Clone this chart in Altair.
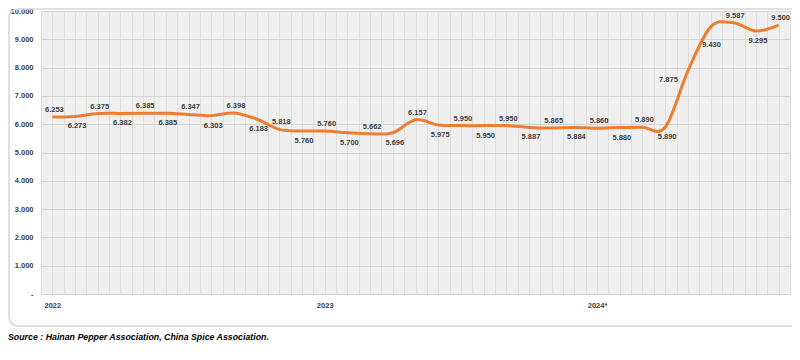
import altair as alt
import pandas as pd

# Monthly prices (thousand-dot notation as in the source: 6.253 = 6,253)
values = [6.253, 6.273, 6.375, 6.382, 6.385, 6.385, 6.347, 6.303, 6.398, 6.183,
          5.818, 5.760, 5.760, 5.700, 5.662, 5.696, 6.157, 5.975, 5.950, 5.950,
          5.950, 5.887, 5.865, 5.884, 5.860, 5.880, 5.890, 5.890, 7.875, 9.430,
          9.587, 9.295, 9.500]
year_labels = ["2022", "2023", "2024*"]
year_positions = [0, 12, 24]
source_text = "Source : Hainan Pepper Association, China Spice Association."

df = pd.DataFrame({"i": list(range(len(values))), "v": values})
df["lbl"] = [f"{v:.3f}" for v in values]

W, H = 749, 283
FONT = "Liberation Sans"
ORANGE = "#ED7D31"

label_expr = " : ".join(
    [f"datum.value == {p} ? '{t}'" for p, t in zip(year_positions, year_labels)]
) + " : ''"

x_enc = alt.X(
    "i:Q",
    scale=alt.Scale(domain=[-0.5, len(values) - 0.5], nice=False, zero=False),
    axis=alt.Axis(
        values=[k / 2 - 0.5 for k in range(2 * len(values) + 1)],
        labelExpr=label_expr,
        title=None, domain=False, ticks=False, grid=True,
        gridColor="#dedede", gridWidth=1,
        labelFont=FONT, labelFontSize=7.5, labelFontWeight="bold",
        labelColor="#404040", labelPadding=7, labelFlush=False,
        labelOverlap=False,
    ),
)
y_enc = alt.Y(
    "v:Q",
    scale=alt.Scale(domain=[0, 10], nice=False),
    axis=alt.Axis(
        values=list(range(0, 11)),
        labelExpr="datum.value == 0 ? '-' : format(datum.value, '.3f')",
        title=None, domain=False, ticks=False, grid=True,
        gridColor="#d4d4d4", gridWidth=1,
        labelFont=FONT, labelFontSize=7.5, labelFontWeight="bold",
        labelColor="#404040", labelPadding=8, labelOverlap=False,
    ),
)

frame_df = pd.DataFrame({"a": [0]})
frame = alt.Chart(frame_df).mark_rect(
    fill=None, stroke="#d6d6d6", strokeWidth=1.5, cornerRadius=9
).encode(
    x=alt.value(-32), x2=alt.value(W + 34),
    y=alt.value(-2), y2=alt.value(H + 32),
)

source = alt.Chart(frame_df).mark_text(
    text=source_text, font=FONT, fontSize=8.8, fontWeight="bold",
    fontStyle="italic", color="#000000", align="left", baseline="middle",
).encode(x=alt.value(-33), y=alt.value(H + 43))

line = alt.Chart(df).mark_line(
    color=ORANGE, strokeWidth=3, interpolate="cardinal"
).encode(x=x_enc, y=y_enc)

base_txt = dict(font=FONT, fontSize=7.5, fontWeight="bold", color="#404040")

above = alt.Chart(df).transform_filter(
    "datum.i % 2 == 0 && datum.i != 28"
).mark_text(baseline="bottom", dy=-3, dx=2, **base_txt).encode(
    x=x_enc, y=y_enc, text="lbl:N")

below = alt.Chart(df).transform_filter(
    "datum.i % 2 == 1 && datum.i != 29"
).mark_text(baseline="top", dy=6, dx=2, **base_txt).encode(
    x=x_enc, y=y_enc, text="lbl:N")

below_far = alt.Chart(df).transform_filter("datum.i == 29").mark_text(
    baseline="top", dy=14, dx=1, **base_txt).encode(
    x=x_enc, y=y_enc, text="lbl:N")

left = alt.Chart(df).transform_filter("datum.i == 28").mark_text(
    align="right", baseline="middle", dx=-10, dy=9, **base_txt).encode(
    x=x_enc, y=y_enc, text="lbl:N")

chart = alt.layer(frame, line, above, below, below_far, left, source).properties(
    width=W, height=H,
    autosize=alt.AutoSizeParams(type="none"),
    padding={"left": 33, "top": 3, "right": 2, "bottom": 52},
).configure_view(fill="#efefef", stroke=None)

chart.save("out.html", embed_options={"renderer": "svg", "actions": False})
